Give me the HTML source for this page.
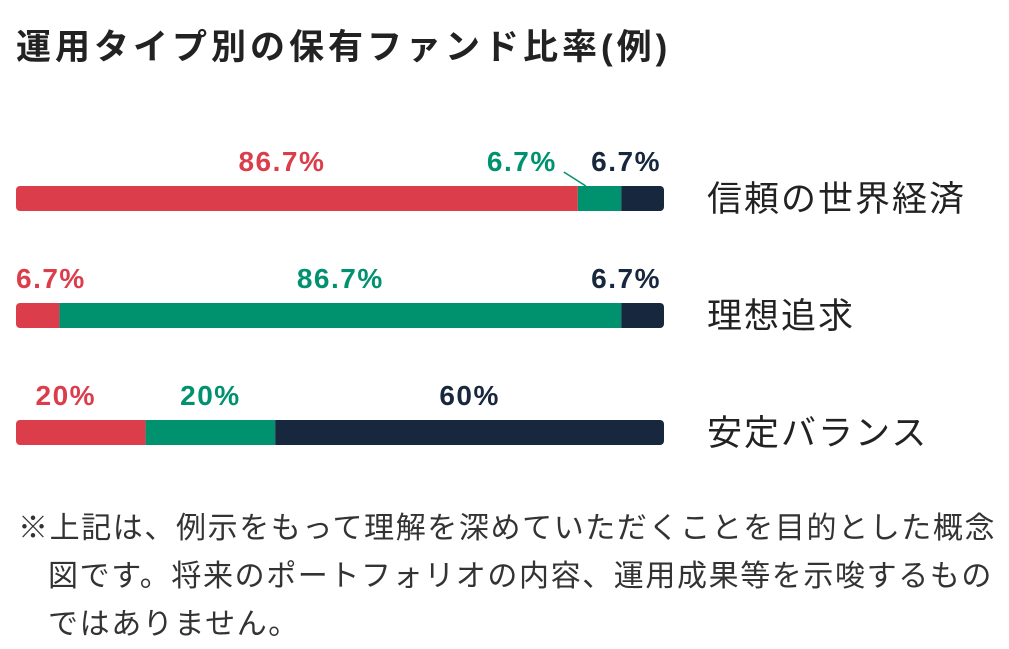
<!DOCTYPE html>
<html><head><meta charset="utf-8"><style>
body{margin:0;width:1009px;height:648px;background:#fff;overflow:hidden;font-family:"Liberation Sans","Noto Sans CJK JP",sans-serif;}
svg{display:block}
.note{position:absolute;left:18px;top:505px;font-size:30px;letter-spacing:1.6px;line-height:48px;color:#333;width:1000px;white-space:nowrap}
</style></head><body>
<svg width="1009" height="500" id="c">
<text x="16" y="59" font-size="35" font-weight="bold" letter-spacing="4" fill="#222">運用タイプ別の保有ファンド比率(例)</text>
</svg>
<div class="note">※上記は、例示をもって理解を深めていただくことを目的とした概念<br><span style="padding-left:30px">図です。将来のポートフォリオの内容、運用成果等を示唆するもの</span><br><span style="padding-left:30px">ではありません。</span></div>
<script>
const categories=["信頼の世界経済","理想追求","安定バランス"];
const redVals=[86.7,6.7,20];
const greenVals=[6.7,86.7,20];
const navyVals=[6.7,6.7,60];
const valueLabels=[["86.7%","6.7%","6.7%"],["6.7%","86.7%","6.7%"],["20%","20%","60%"]];
const colors=["#dc3d4b","#00926f","#17273d"];
const svg=document.getElementById('c');
const NS="http://www.w3.org/2000/svg";
const x0=16,W=648;
const xs=v=>x0+v/100*W;
function el(t,a){const e=document.createElementNS(NS,t);for(const k in a)e.setAttribute(k,a[k]);svg.appendChild(e);return e;}
categories.forEach((cat,i)=>{
  const y=186+i*117,h=25;
  const clip=el('clipPath',{id:'cl'+i});
  const r=document.createElementNS(NS,'rect');
  r.setAttribute('x',x0);r.setAttribute('y',y);r.setAttribute('width',W);r.setAttribute('height',h);r.setAttribute('rx',4);
  clip.appendChild(r);
  const vals=[redVals[i],greenVals[i],navyVals[i]];
  let acc=0;
  vals.forEach((v,j)=>{
    const a=xs(acc),b=xs(acc+v);acc+=v;
    const s=el('rect',{x:a,y:y,width:b-a,height:h,fill:colors[j],'clip-path':'url(#cl'+i+')'});
    
    
    let cx=(a+b)/2,anchor='middle';
    if(j===0&&b-a>=60)cx-=15;
    if(b-a<60){ if(j===0){cx=x0;anchor='start';} else if(j===2){cx=x0+W-3;anchor='end';} else {cx=a-56;}
      if(j===1){const ln=el('line',{x1:a-14,y1:y-14,x2:a+8,y2:y,stroke:colors[1],'stroke-width':1.5});
        }
    }
    const t=el('text',{x:cx,y:y-15,'text-anchor':anchor,'font-size':28,'font-weight':'bold','letter-spacing':1.5,fill:colors[j]});
    t.textContent=valueLabels[i][j];
    
    
  });
  const lab=el('text',{x:707,y:y+25,'font-size':35,'letter-spacing':2,fill:'#222'});
  lab.textContent=cat;
  
  
});
</script>
</body></html>
